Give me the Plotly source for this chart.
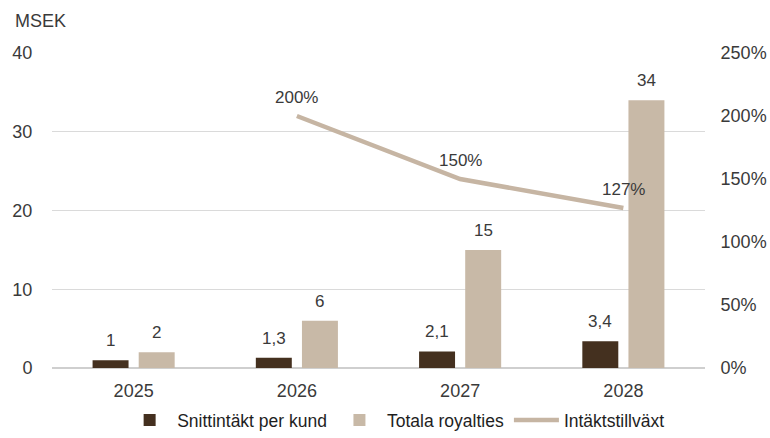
import plotly.graph_objects as go

years = [2025, 2026, 2027, 2028]
snitt = [1, 1.3, 2.1, 3.4]
royalties = [2, 6, 15, 34]
growth_years = [2026, 2027, 2028]
growth = [200, 150, 127]

DARK = "#44301f"
LIGHT = "#c8b9a7"
LINE = "#c6b5a3"
TXT = "#3a3a3a"
FONT = "Liberation Sans, Arial, sans-serif"

def fmt(v):
    return (f"{v:g}").replace(".", ",")

fig = go.Figure()
fig.add_trace(go.Bar(x=years, y=snitt, name="Snittintäkt per kund",
                     marker=dict(color=DARK, line=dict(width=0))))
fig.add_trace(go.Bar(x=years, y=royalties, name="Totala royalties",
                     marker=dict(color=LIGHT, line=dict(width=0))))
fig.add_trace(go.Scatter(x=growth_years, y=growth, name="Intäktstillväxt", yaxis="y2",
                         mode="lines", line=dict(color=LINE, width=4.5)))

annotations = []
for xv, yv in zip(years, snitt):
    annotations.append(dict(x=xv, y=yv, text=fmt(yv), xref="x", yref="y", showarrow=False,
                            yanchor="bottom", xshift=-23, yshift=8,
                            font=dict(size=17, color=TXT, family=FONT)))
for xv, yv in zip(years, royalties):
    annotations.append(dict(x=xv, y=yv, text=fmt(yv), xref="x", yref="y", showarrow=False,
                            yanchor="bottom", xshift=23, yshift=8,
                            font=dict(size=17, color=TXT, family=FONT)))
for xv, gv in zip(growth_years, growth):
    annotations.append(dict(x=xv, y=gv, text=f"{gv}%", xref="x", yref="y2", showarrow=False,
                            yanchor="bottom", yshift=7,
                            font=dict(size=17, color=TXT, family=FONT)))
annotations.append(dict(x=-0.06, y=1.10, xref="paper", yref="paper", text="MSEK",
                        showarrow=False, xanchor="left", yanchor="middle",
                        font=dict(size=18, color=TXT, family=FONT)))

fig.update_layout(
    width=770, height=438,
    margin=dict(l=52, r=65, t=53, b=70),
    paper_bgcolor="white", plot_bgcolor="white",
    font=dict(family=FONT, size=18, color=TXT),
    barmode="group", bargap=0.435, bargroupgap=0.22,
    showlegend=True,
    legend=dict(orientation="h", x=0.527, xanchor="center",
                yref="container", y=0.0, yanchor="bottom",
                font=dict(size=17.5, color="#1e1e1e", family=FONT),
                itemwidth=45, tracegroupgap=0),
    xaxis=dict(type="linear", range=[2024.5, 2028.5], tickvals=years,
               ticktext=[str(y) for y in years], showgrid=False, showline=False,
               zeroline=False, ticks="outside", ticklen=6, tickcolor="rgba(0,0,0,0)",
               tickfont=dict(size=18, color=TXT), automargin=False),
    yaxis=dict(range=[0, 40], dtick=10, showgrid=True, gridcolor="#dadada", gridwidth=1.2,
               zeroline=True, zerolinecolor="#cfcfcf", zerolinewidth=1.8, showline=False,
               tickfont=dict(size=18, color=TXT), ticks="outside", ticklen=15,
               tickcolor="rgba(0,0,0,0)", automargin=False),
    yaxis2=dict(range=[0, 250], dtick=50, overlaying="y", side="right", showgrid=False,
                zeroline=False, ticksuffix="%", tickfont=dict(size=18, color=TXT),
                ticks="outside", ticklen=11, tickcolor="rgba(0,0,0,0)", automargin=False),
    annotations=annotations,
)

fig.write_html("out.html")
